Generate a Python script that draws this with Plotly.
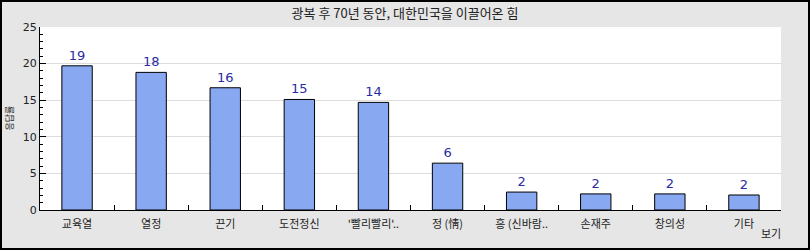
import plotly.graph_objects as go

categories = ["교육열", "열정", "끈기", "도전정신", "'빨리빨리'..", "정 (情)",
              "흥 (신바람..", "손재주", "창의성", "기타"]
values = [19.7, 18.8, 16.7, 15.1, 14.7, 6.4, 2.45, 2.2, 2.2, 2.05]
labels = [str(int(v)) for v in values]

W, H = 810, 250
ML, MR, MT, MB = 40, 29, 27, 40
PW, PH = W - ML - MR, H - MT - MB

font_family = "DejaVu Sans, Noto Sans CJK KR, sans-serif"

fig = go.Figure(go.Bar(
    x=categories, y=values, text=labels, textposition="outside",
    textfont=dict(color="#2b2ba3", size=13, family=font_family),
    marker=dict(color="#88a8f2", line=dict(color="black", width=1)),
    width=0.41, cliponaxis=False,
))

fig.update_layout(
    width=W, height=H,
    margin=dict(l=ML, r=MR, t=MT, b=MB, pad=0),
    paper_bgcolor="#e6e6e6", plot_bgcolor="white",
    showlegend=False,
    font=dict(family=font_family, size=11, color="black"),
    title=dict(text="광복 후 70년 동안, 대한민국을 이끌어온 힘", x=0.5, xanchor="center",
               y=1 - 13 / H, yanchor="middle",
               font=dict(size=13, color="#222222", family="Noto Sans CJK KR, sans-serif")),
    xaxis=dict(showline=True, linecolor="black", linewidth=1, ticks="inside",
               tickson="boundaries", ticklen=5, tickcolor="black",
               ticklabelstandoff=4,
               tickfont=dict(size=11, family="Noto Sans CJK KR, sans-serif", color="#222222"),
               showgrid=False, fixedrange=True, mirror=False),
    yaxis=dict(range=[0, 25], dtick=5, showline=True, linecolor="black", linewidth=1,
               ticks="inside", ticklen=6, tickcolor="black",
               tickfont=dict(size=11, color="#222222"),
               showgrid=True, gridcolor="#dddddd", zeroline=False,
               minor=dict(dtick=1, ticks="inside", ticklen=3, tickcolor="black", showgrid=False)),
    bargap=0.59,
    shapes=[dict(type="rect", xref="paper", yref="paper",
                 x0=-ML / PW + 1 / PW, x1=1 + MR / PW - 1 / PW,
                 y0=-MB / PH + 1 / PH, y1=1 + MT / PH - 1 / PH,
                 line=dict(color="black", width=2), layer="above")],
    annotations=[
        dict(text="응답률", xref="paper", yref="paper", x=-31 / PW, y=0.5,
             textangle=-90, showarrow=False, font=dict(size=9, color="#222222",
             family="Noto Sans CJK KR, sans-serif"), xanchor="center", yanchor="middle"),
        dict(text="보기", xref="paper", yref="paper", x=(771 - ML) / PW, y=-(233 - MT - PH) / PH,
             showarrow=False, font=dict(size=11, color="#222222",
             family="Noto Sans CJK KR, sans-serif"), xanchor="center", yanchor="middle"),
    ],
)

fig.write_html("out.html")
